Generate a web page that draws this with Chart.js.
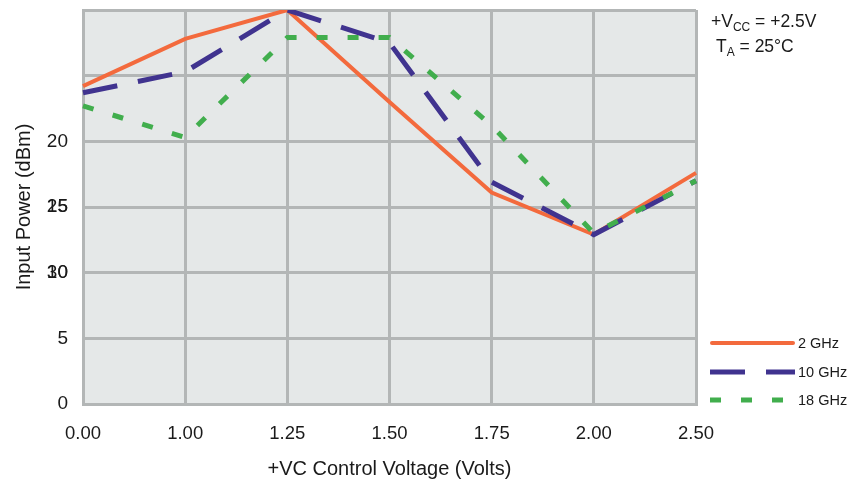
<!DOCTYPE html>
<html>
<head>
<meta charset="utf-8">
<script src="https://cdn.jsdelivr.net/npm/chart.js@4"></script>
<style>
  html, body { margin: 0; padding: 0; background: #fff; }
  #wrap { width: 857px; height: 485px; position: relative; }
</style>
</head>
<body>
<div id="wrap"><canvas id="chart"></canvas></div>
<script>
// x categories (control voltage, volts)
const voltages = ['0.00', '1.00', '1.25', '1.50', '1.75', '2.00', '2.50'];

// input power (dBm) per frequency
const power2GHz  = [24.2, 27.8, 30.0, 23.0, 16.1, 12.9, 17.6];
const power10GHz = [23.7, 25.3, 30.0, 27.5, 16.9, 12.9, 17.0];
const power18GHz = [22.7, 20.3, 27.9, 27.9, 21.2, 13.0, 17.0];

const seriesNames = ['2 GHz', '10 GHz', '18 GHz'];

// y tick labels as printed on the original (25/30 are overprinted on 15/10)
const yTickLabels = { 0: '0', 5: '5', 10: '10', 15: '15', 20: '20', 25: '', 30: '' };
const yOverprint = { 10: '30', 15: '25' };

const COLORS = ['#F36A3D', '#40338F', '#41AE4D'];
const GRID = '#B3B6B6';
const FONT = '"Liberation Sans", Arial, sans-serif';

// plot background fill
const plotBg = {
    id: 'plotBg',
    beforeDraw(chart) {
        const { ctx, chartArea: { left, top, width, height } } = chart;
        ctx.save();
        ctx.fillStyle = '#E5E8E8';
        ctx.fillRect(left, top, width, height);
        ctx.restore();
    }
};

// overprinted labels, annotation and legend
const extras = {
    id: 'extras',
    afterDraw(chart) {
        const { ctx, scales: { y } } = chart;
        ctx.save();
        ctx.fillStyle = '#1a1a1a';

        // overlapping tick labels
        ctx.font = '19px ' + FONT;
        ctx.textAlign = 'right';
        ctx.textBaseline = 'middle';
        Object.keys(yOverprint).forEach(v => {
            ctx.fillText(yOverprint[v], 68, y.getPixelForValue(+v));
        });

        // conditions note
        ctx.textAlign = 'left';
        ctx.textBaseline = 'alphabetic';
        const note = (x, yy, main, sub, rest) => {
            ctx.font = '17.5px ' + FONT;
            ctx.fillText(main, x, yy);
            let cx = x + ctx.measureText(main).width;
            ctx.font = '12px ' + FONT;
            ctx.fillText(sub, cx, yy + 4);
            cx += ctx.measureText(sub).width;
            ctx.font = '17.5px ' + FONT;
            ctx.fillText(rest, cx, yy);
        };
        note(711, 27, '+V', 'CC', ' = +2.5V');
        note(716, 52, 'T', 'A', ' = 25°C');

        // legend
        const rows = [343, 372, 400];
        chart.data.datasets.forEach((ds, i) => {
            ctx.beginPath();
            ctx.strokeStyle = ds.borderColor;
            ctx.lineWidth = ds.borderWidth;
            ctx.lineCap = i === 0 ? 'round' : 'butt';
            ctx.setLineDash(ds.borderDash || []);
            ctx.moveTo(i === 0 ? 712 : 710, rows[i]);
            ctx.lineTo(i === 0 ? 793 : 795, rows[i]);
            ctx.stroke();
            ctx.setLineDash([]);
            ctx.font = '14.5px ' + FONT;
            ctx.textBaseline = 'middle';
            ctx.fillStyle = '#1a1a1a';
            ctx.fillText(ds.label, 798, rows[i] + 1);
        });
        ctx.restore();
    }
};

new Chart(document.getElementById('chart'), {
    type: 'line',
    data: {
        labels: voltages,
        datasets: [
            {
                label: seriesNames[0],
                data: power2GHz,
                borderColor: COLORS[0],
                borderWidth: 4,
                order: 3
            },
            {
                label: seriesNames[1],
                data: power10GHz,
                borderColor: COLORS[1],
                borderWidth: 5,
                borderDash: [35, 21],
                order: 2
            },
            {
                label: seriesNames[2],
                data: power18GHz,
                borderColor: COLORS[2],
                borderWidth: 5,
                borderDash: [11, 20],
                order: 1
            }
        ]
    },
    options: {
        responsive: true,
        maintainAspectRatio: false,
        animation: false,
        devicePixelRatio: 1,
        layout: { padding: { left: 0, right: 161, top: 10, bottom: 0 } },
        elements: {
            point: { radius: 0 },
            line: { tension: 0, fill: false }
        },
        plugins: {
            legend: { display: false },
            tooltip: { enabled: false }
        },
        scales: {
            x: {
                offset: false,
                afterFit: (scale) => {
                    scale.height = 81;
                    scale.paddingLeft = 0;
                    scale.paddingRight = 0;
                },
                grid: { color: GRID, lineWidth: 3, drawTicks: false },
                border: { color: GRID, width: 3 },
                ticks: {
                    padding: 19,
                    color: '#1a1a1a',
                    maxRotation: 0,
                    font: { family: FONT, size: 18.5 }
                },
                title: {
                    display: true,
                    text: '+VC Control Voltage (Volts)',
                    color: '#1a1a1a',
                    padding: { top: 4, bottom: 4 },
                    font: { family: FONT, size: 20 }
                }
            },
            y: {
                min: 0,
                max: 30,
                afterFit: (scale) => {
                    scale.width = 83;
                    scale.paddingTop = 0;
                    scale.paddingBottom = 0;
                },
                grid: { color: GRID, lineWidth: 3, drawTicks: false },
                border: { color: GRID, width: 3 },
                ticks: {
                    stepSize: 5,
                    padding: 15,
                    color: '#1a1a1a',
                    font: { family: FONT, size: 19 },
                    callback: (v) => yTickLabels[v] ?? ''
                },
                title: {
                    display: true,
                    text: 'Input Power (dBm)',
                    color: '#1a1a1a',
                    padding: { top: 12, bottom: 0 },
                    font: { family: FONT, size: 20 }
                }
            }
        }
    },
    plugins: [plotBg, extras]
});
</script>
</body>
</html>
